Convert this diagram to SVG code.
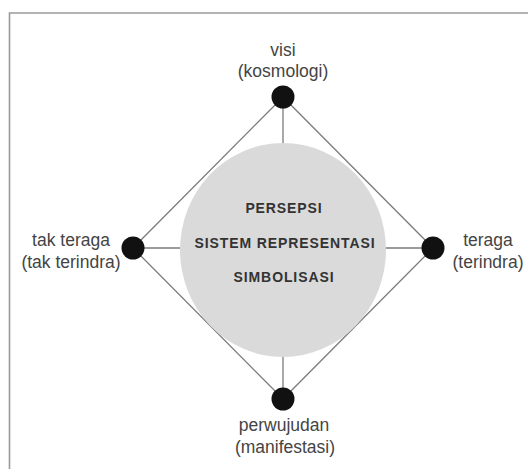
<svg xmlns="http://www.w3.org/2000/svg" width="528" height="469" viewBox="0 0 528 469">
  <style>
    .frame { fill: none; stroke: #9a9a9a; stroke-width: 1.6; }
    .conn { stroke: #7a7a7a; stroke-width: 1.3; fill: none; }
    .dot { fill: #111; }
    .lbl { font-family: "Liberation Sans", Arial, sans-serif; font-size: 17.5px; fill: #444; text-anchor: middle; }
    .core { font-family: "Liberation Sans", Arial, sans-serif; font-size: 14px; font-weight: bold; fill: #333; text-anchor: middle; letter-spacing: 0.9px; }
  </style>
  <rect width="528" height="469" fill="#fff"/>
  <path class="frame" d="M9.5 475 V13 H535"/>

  <g id="connectors">
    <line class="conn" x1="283" y1="97" x2="133" y2="248"/>
    <line class="conn" x1="283" y1="97" x2="433" y2="248"/>
    <line class="conn" x1="133" y1="248" x2="283" y2="399"/>
    <line class="conn" x1="433" y1="248" x2="283" y2="399"/>
    <line class="conn" x1="283" y1="97" x2="283" y2="145"/>
    <line class="conn" x1="283" y1="355" x2="283" y2="399"/>
    <line class="conn" x1="133" y1="248" x2="182" y2="248"/>
    <line class="conn" x1="384" y1="248" x2="433" y2="248"/>
  </g>

  <g id="core">
    <ellipse cx="283" cy="250" rx="103" ry="107" fill="#dadada"/>
    <text class="core" x="284" y="213">PERSEPSI</text>
    <text class="core" x="285" y="248">SISTEM REPRESENTASI</text>
    <text class="core" x="284" y="282">SIMBOLISASI</text>
  </g>

  <g id="node-visi">
    <circle class="dot" cx="283" cy="97" r="11.5"/>
    <text class="lbl" x="283" y="56">visi</text>
    <text class="lbl" x="283" y="77">(kosmologi)</text>
  </g>

  <g id="node-tak-teraga">
    <circle class="dot" cx="133" cy="248" r="11.5"/>
    <text class="lbl" x="71" y="246">tak teraga</text>
    <text class="lbl" x="71" y="268">(tak terindra)</text>
  </g>

  <g id="node-teraga">
    <circle class="dot" cx="433" cy="248" r="11.5"/>
    <text class="lbl" x="488" y="246">teraga</text>
    <text class="lbl" x="488" y="268">(terindra)</text>
  </g>

  <g id="node-perwujudan">
    <circle class="dot" cx="283" cy="399" r="11.5"/>
    <text class="lbl" x="284" y="431">perwujudan</text>
    <text class="lbl" x="285" y="453">(manifestasi)</text>
  </g>
</svg>
